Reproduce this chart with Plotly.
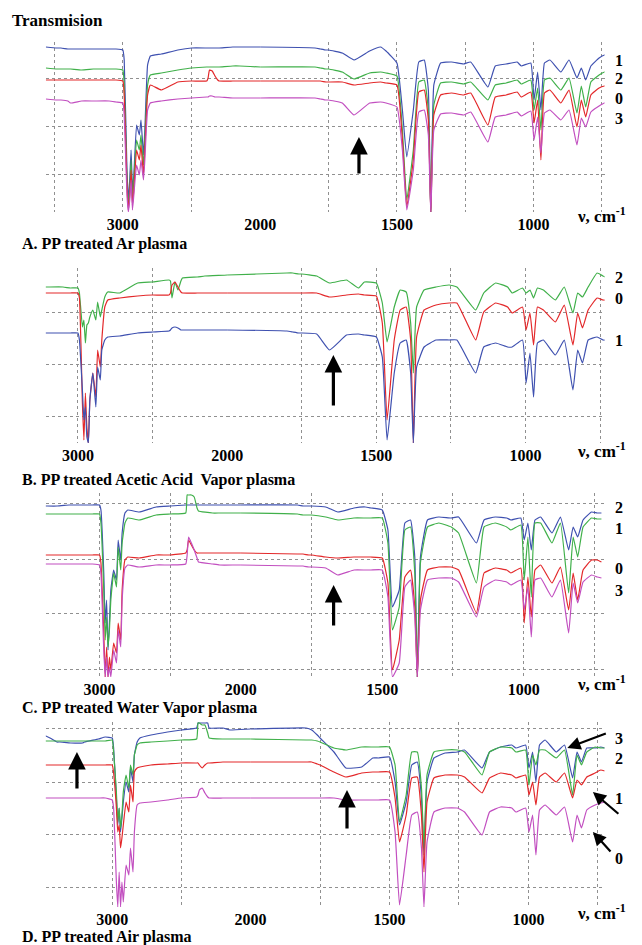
import plotly.graph_objects as go

# ---------------- data (wavenumber grid, cm-1) ----------------
nu = [3560, 3480, 3450, 3400, 3380, 3300, 3215, 3200, 3100, 3050,
      3000, 2990, 2970, 2960, 2950, 2940, 2930, 2920, 2900, 2880,
      2868, 2850, 2840, 2820, 2800, 2720, 2600, 2500, 2390, 2380,
      2370, 2350, 2330, 2310, 2300, 2200, 2150, 2000, 1800, 1780,
      1760, 1750, 1700, 1657, 1600, 1560, 1540, 1500, 1480, 1464,
      1440, 1420, 1400, 1385, 1376, 1365, 1340, 1300, 1256, 1230,
      1167, 1140, 1100, 1060, 1045, 1010, 998, 985, 973, 960,
      940, 900, 870, 841, 825, 809, 790, 760, 740, 725]

# Panel A (Ar plasma): transmission, arbitrary units (offset curves)
A_blue = [165, 164, 164, 163, 163, 163, 163, 163, 163, 163,
          162, 152, 42, 12, 32, 62, 22, 37, 87, 77,
          92, 57, 82, 147, 156, 158, 162, 164, 164, 164,
          164, 164, 164, 164, 164, 165, 165, 165, 164, 163,
          162, 162, 159, 152, 161, 165, 161, 149, 102, 55,
          102, 150, 152, 122, -2, 127, 149, 150, 148, 150,
          125, 146, 148, 150, 146, 149, 112, 140, 102, 149,
          152, 140, 152, 134, 144, 132, 146, 154, 157, 157]
A_green = [144, 143, 143, 143, 143, 142, 143, 143, 143, 143,
           142, 127, 32, 7, 22, 52, 12, 32, 72, 62,
           77, 47, 72, 127, 137, 139, 142, 144, 145, 145,
           145, 145, 145, 145, 145, 146, 146, 145, 145, 144,
           143, 143, 140, 133, 139, 140, 139, 136, 82, 12,
           62, 130, 132, 102, -2, 107, 129, 130, 128, 130,
           112, 127, 129, 132, 128, 132, 102, 124, 82, 132,
           134, 122, 134, 99, 126, 105, 130, 137, 140, 140]
A_red = [132, 132, 132, 132, 132, 132, 132, 132, 132, 132,
         131, 117, 27, 2, 17, 42, 7, 22, 62, 52,
         67, 37, 62, 117, 127, 122, 130, 131, 131, 134,
         142, 141, 136, 132, 131, 131, 131, 131, 131, 131,
         130, 130, 130, 127, 129, 130, 129, 127, 72, 5,
         52, 120, 122, 92, -2, 97, 117, 119, 117, 119,
         87, 115, 117, 120, 115, 120, 89, 112, 52, 119,
         122, 109, 122, 85, 112, 95, 117, 124, 126, 126]
A_magenta = [113, 112, 112, 111, 109, 111, 111, 111, 111, 110,
             109, 97, 17, 0, 12, 32, 2, 17, 47, 37,
             52, 32, 52, 102, 109, 111, 113, 114, 115, 115,
             116, 116, 115, 115, 115, 114, 114, 114, 114, 113,
             112, 112, 109, 97, 109, 110, 109, 105, 62, 2,
             42, 100, 102, 77, -2, 82, 98, 99, 97, 100,
             70, 95, 97, 100, 96, 101, 72, 95, 59, 99,
             102, 92, 102, 67, 94, 85, 100, 106, 109, 109]

# Panel B (acetic acid vapor plasma)
B_green = [156, 156, 156, 156, 156, 156, 156, 156, 156, 155,
           155, 150, 116, 123, 100, 118, 120, 126, 133, 123,
           141, 126, 133, 146, 151, 150, 160, 161, 163, 162,
           145, 161, 153, 162, 165, 166, 167, 168, 170, 170,
           169, 169, 167, 160, 163, 155, 161, 160, 140, 101,
           136, 153, 151, 120, 70, 136, 153, 156, 158, 156,
           133, 150, 160, 156, 150, 155, 150, 153, 145, 155,
           153, 143, 156, 130, 150, 146, 156, 170, 167, 165]
B_red = [150, 150, 150, 150, 150, 150, 150, 150, 150, 150,
         150, 145, 40, 3, 50, 16, 0, 43, 70, 46,
         93, 76, 103, 136, 143, 145, 147, 148, 148, 150,
         158, 161, 156, 151, 150, 150, 150, 150, 150, 150,
         150, 150, 150, 146, 148, 149, 148, 147, 120, 23,
         103, 133, 136, 103, 0, 106, 133, 138, 140, 140,
         103, 131, 140, 136, 130, 136, 113, 130, 98, 136,
         133, 121, 138, 98, 130, 115, 133, 145, 143, 143]
B_blue = [110, 110, 110, 110, 110, 110, 110, 110, 110, 110,
          110, 103, 53, 23, 36, 6, 0, 43, 70, 36,
          76, 63, 93, 103, 106, 107, 110, 111, 112, 113,
          115, 116, 115, 113, 113, 113, 113, 113, 112, 111,
          110, 110, 109, 93, 108, 109, 108, 106, 86, 3,
          70, 100, 103, 70, 0, 76, 96, 103, 103, 103,
          70, 96, 100, 96, 96, 103, 60, 90, 46, 100,
          103, 88, 103, 53, 93, 80, 103, 106, 103, 103]

# Panel C (water vapor plasma)
C_blue = [171, 171, 171, 171, 171, 171, 172, 172, 172, 172,
          172, 167, 104, 54, 77, 27, 54, 87, 107, 97,
          137, 117, 144, 164, 167, 165, 170, 171, 172, 172,
          172, 172, 172, 172, 172, 172, 172, 172, 172, 171,
          171, 171, 170, 165, 169, 170, 169, 167, 147, 70,
          87, 154, 157, 120, 0, 120, 157, 160, 159, 160,
          134, 157, 160, 159, 157, 159, 137, 154, 127, 157,
          160, 144, 160, 127, 150, 140, 157, 165, 164, 164]
C_green = [163, 163, 163, 163, 163, 163, 163, 163, 163, 163,
           163, 154, 87, 37, 60, 30, 47, 77, 104, 90,
           130, 107, 134, 154, 159, 157, 162, 163, 164, 182,
           182, 182, 180, 169, 166, 164, 164, 164, 163, 162,
           162, 162, 160, 157, 159, 159, 159, 159, 134, 47,
           70, 147, 150, 104, 0, 114, 150, 154, 150, 144,
           94, 150, 154, 150, 147, 152, 97, 140, 80, 154,
           154, 134, 154, 84, 140, 120, 150, 159, 158, 158]
C_red = [122, 122, 122, 122, 122, 122, 122, 122, 122, 122,
         122, 114, 44, 0, 30, 0, 20, 7, 34, 24,
         54, 37, 87, 117, 120, 119, 122, 122, 124, 127,
         137, 132, 127, 124, 124, 124, 124, 124, 123, 123,
         122, 122, 120, 119, 120, 120, 120, 119, 94, 7,
         37, 100, 107, 70, 0, 77, 107, 110, 110, 107,
         64, 104, 109, 107, 104, 109, 54, 100, 60, 107,
         112, 94, 110, 67, 104, 77, 107, 117, 117, 115]
C_magenta = [113, 113, 113, 113, 113, 113, 113, 113, 113, 113,
             112, 104, 27, 0, 20, 0, 10, 0, 27, 14,
             47, 30, 77, 109, 112, 110, 112, 112, 113, 122,
             140, 134, 127, 119, 115, 113, 112, 112, 111, 111,
             110, 110, 109, 102, 107, 107, 107, 107, 80, 0,
             14, 90, 97, 60, 0, 67, 97, 99, 99, 95,
             60, 90, 97, 95, 92, 97, 67, 90, 40, 97,
             99, 80, 97, 44, 94, 74, 95, 102, 100, 99]

# Panel D (air plasma)
D_blue = [173, 171, 169, 165, 165, 164, 164, 165, 168, 170,
          169, 159, 109, 82, 99, 75, 89, 105, 125, 115,
          139, 125, 152, 165, 169, 172, 175, 177, 179, 184,
          184, 184, 184, 184, 179, 179, 177, 178, 179, 177,
          172, 169, 155, 139, 140, 149, 149, 150, 125, 82,
          105, 142, 145, 109, 52, 125, 149, 154, 155, 157,
          139, 155, 160, 162, 159, 162, 139, 155, 125, 162,
          167, 155, 162, 129, 155, 145, 159, 159, 160, 159]
D_green = [167, 166, 166, 166, 166, 166, 166, 166, 166, 166,
           167, 155, 115, 85, 99, 79, 92, 115, 132, 119,
           142, 132, 152, 162, 164, 165, 166, 167, 168, 184,
           184, 182, 182, 174, 169, 168, 168, 168, 167, 167,
           166, 165, 159, 157, 160, 160, 160, 160, 142, 85,
           112, 155, 155, 119, 59, 132, 155, 157, 157, 155,
           132, 155, 160, 159, 155, 157, 122, 152, 142, 157,
           157, 149, 157, 112, 152, 142, 155, 160, 159, 159]
D_red = [142, 142, 142, 142, 142, 142, 142, 142, 142, 142,
         142, 134, 99, 75, 82, 59, 69, 82, 105, 95,
         122, 105, 135, 139, 140, 142, 143, 144, 144, 144,
         142, 139, 142, 144, 144, 145, 145, 145, 145, 145,
         143, 142, 135, 130, 134, 135, 135, 135, 109, 65,
         92, 129, 130, 92, 35, 105, 129, 132, 132, 130,
         114, 129, 134, 132, 129, 132, 112, 125, 102, 130,
         134, 125, 134, 109, 127, 122, 130, 134, 137, 136]
D_magenta = [109, 109, 109, 109, 109, 109, 109, 109, 109, 109,
             107, 99, 25, 0, 35, 0, 25, 5, 42, 32,
             59, 35, 75, 102, 104, 105, 107, 109, 110, 112,
             117, 119, 114, 110, 109, 109, 109, 109, 109, 109,
             109, 109, 109, 107, 107, 107, 107, 107, 75, 2,
             52, 92, 95, 59, 0, 65, 95, 99, 99, 95,
             72, 95, 100, 99, 95, 99, 75, 92, 52, 97,
             102, 92, 100, 65, 92, 79, 97, 102, 104, 105]

captions = ["A. PP treated Ar plasma",
            "B. PP treated Acetic Acid  Vapor plasma",
            "C. PP treated Water Vapor plasma",
            "D. PP treated Air plasma"]
series_labels = [["1", "2", "0", "3"], ["2", "0", "1"],
                 ["2", "1", "0", "3"], ["3", "2", "1", "0"]]
left_ticks = [3500, 3000, 2500, 2000]
left_text = ["", "3000", "", "2000"]
right_ticks = [1750, 1500, 1250, 1000, 750]
right_text = ["", "1500", "", "1000", ""]

# ---------------- styling / layout ----------------
BLUE = "#3f51b0"
GREEN = "#40b04a"
RED = "#e3292b"
MAGENTA = "#c24fc0"
GRID = "#909090"
FONT = "Liberation Serif, Times New Roman, serif"

W, H = 642, 945


def fx(px):
    return px / W


def fy(py):
    return 1 - py / H


panel_series = [
    [(A_blue, BLUE), (A_green, GREEN), (A_red, RED), (A_magenta, MAGENTA)],
    [(B_green, GREEN), (B_red, RED), (B_blue, BLUE)],
    [(C_blue, BLUE), (C_green, GREEN), (C_red, RED), (C_magenta, MAGENTA)],
    [(D_blue, BLUE), (D_green, GREEN), (D_red, RED), (D_magenta, MAGENTA)],
]
left_ranges = [[3560, 2000], [3215, 2000], [3380, 2000], [3480, 2000]]
right_ranges = [[2000, 740], [2000, 735], [2000, 714], [2000, 726]]
x_px = [(47, 267, 620), (47, 233, 620), (47, 247, 620), (47, 257, 620)]
y_px = [(42, 212), (268, 443), (493, 677), (722, 907)]
y_ranges = [[0, 170], [0, 175], [0, 184], [0, 185]]
y_grids = [[38, 86, 134], [27, 79, 131], [8, 64, 118, 174], [20, 73, 125, 179]]
caption_py = [244, 480, 708, 937]
nu_label_py = [215, 450, 683, 912]
label_py = [[60, 79, 98, 118], [278, 298, 340],
            [507, 528, 568, 590], [738, 758, 798, 858]]

fig = go.Figure()
layout = dict(width=W, height=H, autosize=False,
              margin=dict(l=0, r=0, t=0, b=0, pad=0),
              paper_bgcolor="white", plot_bgcolor="white", showlegend=False)

tickfont = dict(family=FONT, size=16, color="black", weight="bold")
annotations = []

for i in range(4):
    xl, xr, yi = 2 * i + 1, 2 * i + 2, i + 1
    xl_ref = "x" if xl == 1 else f"x{xl}"
    xr_ref = f"x{xr}"
    y_ref = "y" if yi == 1 else f"y{yi}"
    for vals, col in panel_series[i]:
        for xa in (xl_ref, xr_ref):
            fig.add_trace(go.Scatter(x=nu, y=vals, xaxis=xa, yaxis=y_ref,
                                     mode="lines", hoverinfo="skip",
                                     line=dict(color=col, width=1.2,
                                               shape="spline", smoothing=0.35)))
    x0, xm, x1 = x_px[i]
    t, b = y_px[i]
    common_x = dict(anchor=y_ref, showgrid=True, gridcolor=GRID,
                    griddash="3px,3px", gridwidth=1, zeroline=False,
                    showline=False, ticks="", tickfont=tickfont,
                    ticklabelstandoff=1, fixedrange=True)
    layout["xaxis" if xl == 1 else f"xaxis{xl}"] = dict(
        domain=[fx(x0), fx(xm)], range=left_ranges[i],
        tickmode="array", tickvals=left_ticks, ticktext=left_text, **common_x)
    layout[f"xaxis{xr}"] = dict(
        domain=[fx(xm), fx(x1)], range=right_ranges[i],
        tickmode="array", tickvals=right_ticks, ticktext=right_text, **common_x)
    layout["yaxis" if yi == 1 else f"yaxis{yi}"] = dict(
        domain=[fy(b), fy(t)], range=y_ranges[i], anchor=xl_ref,
        tickmode="array", tickvals=y_grids[i], showticklabels=False,
        showgrid=True, gridcolor=GRID, griddash="3px,3px", gridwidth=1,
        zeroline=False, showline=False, ticks="", fixedrange=True)

    annotations.append(dict(text=captions[i], x=fx(20), y=fy(caption_py[i]),
                            xref="paper", yref="paper", xanchor="left",
                            yanchor="middle", showarrow=False,
                            font=dict(family=FONT, size=16, color="black",
                                      weight="bold")))
    annotations.append(dict(text="ν, cm<sup>-1</sup>", x=fx(590), y=fy(nu_label_py[i]),
                            xref="paper", yref="paper", xanchor="left",
                            yanchor="middle", showarrow=False,
                            font=dict(family=FONT, size=17, color="black",
                                      weight="bold")))
    for lab, py in zip(series_labels[i], label_py[i]):
        annotations.append(dict(text=lab, x=fx(629), y=fy(py), xref="paper",
                                yref="paper", xanchor="left", yanchor="middle",
                                showarrow=False,
                                font=dict(family=FONT, size=16, color="black",
                                          weight="bold")))

annotations.append(dict(text="Transmision", x=fx(10), y=fy(20), xref="paper",
                        yref="paper", xanchor="left", yanchor="middle",
                        showarrow=False,
                        font=dict(family=FONT, size=17, color="black",
                                  weight="bold")))

# thick black arrows (tip in data coordinates, tail offset in px)
big_arrows = [("x2", "y", 1639, 75, 38), ("x4", "y2", 1644, 88, 52),
              ("x6", "y3", 1672, 92, 42), ("x7", "y4", 3255, 155, 38),
              ("x8", "y4", 1653, 117, 40)]
for xr_, yr_, xv, yv, ay in big_arrows:
    annotations.append(dict(text="", x=xv, y=yv, xref=xr_, yref=yr_, ax=0, ay=ay,
                            showarrow=True, arrowhead=2, arrowsize=1.1,
                            arrowwidth=3.2, arrowcolor="black", standoff=0))

# label pointer arrows in panel D
small_arrows = [(860, 159, 40, -15), (768, 115, 27, 23), (768, 75, 19, 21)]
for xv, yv, ax, ay in small_arrows:
    annotations.append(dict(text="", x=xv, y=yv, xref="x8", yref="y4", ax=ax, ay=ay,
                            showarrow=True, arrowhead=2, arrowsize=1.2,
                            arrowwidth=2.2, arrowcolor="black", standoff=0))

layout["annotations"] = annotations
fig.update_layout(**layout)
fig.write_html("out.html", config={"displayModeBar": False})
